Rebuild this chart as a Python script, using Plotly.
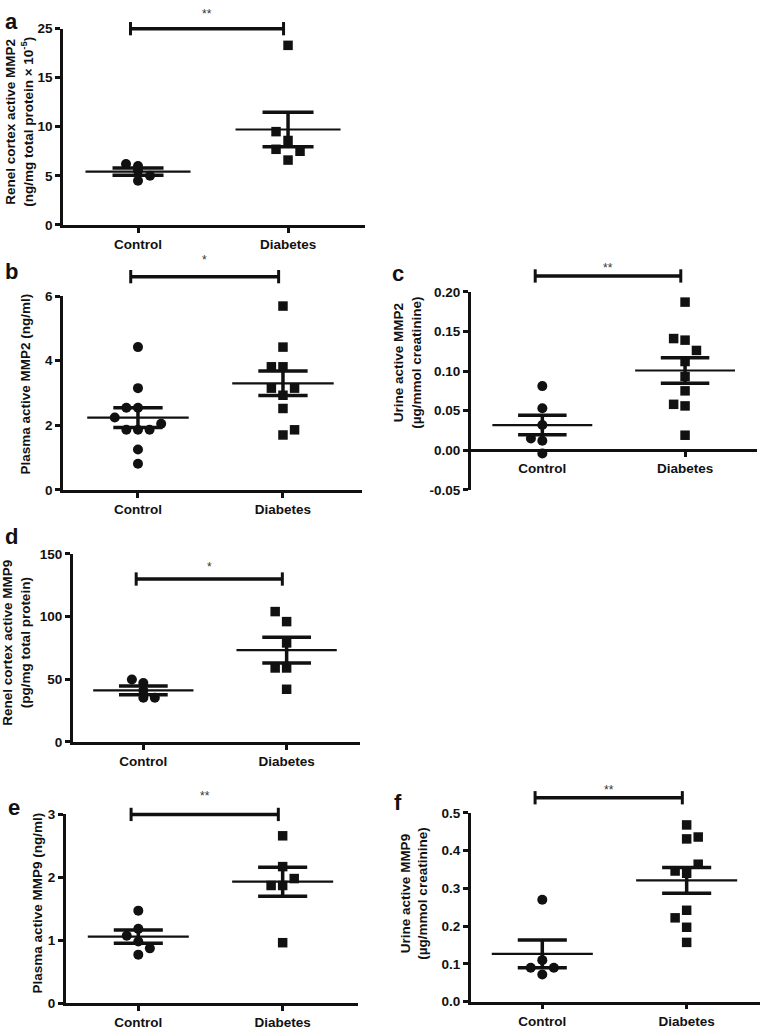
import plotly.graph_objects as go

W, H = 761, 1035

# ---------------- DATA ----------------
groups = ["Control", "Diabetes"]

# a: renal cortex active MMP2
a_control = [6.2, 6.0, 5.5, 5.0, 4.5]
a_diabetes = [18.3, 9.5, 8.6, 7.7, 7.5, 6.6]
a_mean = [5.43, 9.72]
a_sem = [0.37, 1.75]
a_ticks = [0, 5, 10, 15, 20]
a_ticklabels = ["0", "5", "10", "15", "25"]
a_sig, a_sig_y = "**", 20

# b: plasma active MMP2
b_control = [4.42, 3.15, 2.54, 2.54, 2.24, 2.05, 1.86, 1.86, 1.86, 1.25, 0.81]
b_diabetes = [5.69, 4.42, 3.81, 3.81, 3.15, 3.15, 2.93, 2.52, 1.86, 1.70]
b_mean = [2.24, 3.30]
b_sem = [0.305, 0.38]
b_ticks = [0, 2, 4, 6]
b_ticklabels = ["0", "2", "4", "6"]
b_sig, b_sig_y = "*", 6.6

# c: urine active MMP2
c_control = [0.081, 0.053, 0.032, 0.015, 0.012, -0.004]
c_diabetes = [0.187, 0.141, 0.139, 0.126, 0.112, 0.093, 0.075, 0.058, 0.056, 0.019]
c_mean = [0.0318, 0.1007]
c_sem = [0.0123, 0.016]
c_ticks = [-0.05, 0.0, 0.05, 0.10, 0.15, 0.20]
c_ticklabels = ["-0.05", "0.00", "0.05", "0.10", "0.15", "0.20"]
c_sig, c_sig_y = "**", 0.22

# d: renal cortex active MMP9
d_control = [49.8, 47.0, 41.0, 35.2, 35.2]
d_diabetes = [104, 96, 79, 59, 59, 42]
d_mean = [41.15, 73.3]
d_sem = [3.45, 10.25]
d_ticks = [0, 50, 100, 150]
d_ticklabels = ["0", "50", "100", "150"]
d_sig, d_sig_y = "*", 130

# e: plasma active MMP9
e_control = [1.47, 1.18, 1.07, 0.98, 0.87, 0.77]
e_diabetes = [2.66, 2.17, 1.98, 1.87, 1.87, 0.96]
e_mean = [1.056, 1.93]
e_sem = [0.104, 0.23]
e_ticks = [0, 1, 2, 3]
e_ticklabels = ["0", "1", "2", "3"]
e_sig, e_sig_y = "**", 3.0

# f: urine active MMP9
f_control = [0.27, 0.11, 0.09, 0.09, 0.072]
f_diabetes = [0.468, 0.431, 0.436, 0.364, 0.346, 0.340, 0.242, 0.222, 0.197, 0.157]
f_mean = [0.1265, 0.321]
f_sem = [0.0365, 0.034]
f_ticks = [0.0, 0.1, 0.2, 0.3, 0.4, 0.5]
f_ticklabels = ["0.0", "0.1", "0.2", "0.3", "0.4", "0.5"]
f_sig, f_sig_y = "**", 0.54

titles = {
    "a": "Renel cortex active MMP2<br>(ng/mg total protein × 10<sup>-5</sup>)",
    "b": "Plasma active MMP2 (ng/ml)",
    "c": "Urine active MMP2<br>(µg/mmol creatinine)",
    "d": "Renel cortex active MMP9<br>(pg/mg total protein)",
    "e": "Plasma active MMP9 (ng/ml)",
    "f": "Urine active MMP9<br>(µg/mmol creatinine)",
}

# ---------------- LAYOUT / STYLE ----------------
FONT = "Liberation Sans, Arial, Helvetica, sans-serif"
INK = "#111111"
STEP = 0.08        # horizontal jitter step (x units)
MEAN_HW = 0.35
SEM_HW = 0.17
SIG_X = [0.95, 1.97]

panels = [
    dict(k="a", c=a_control, d=a_diabetes, m=a_mean, s=a_sem, tv=a_ticks, tt=a_ticklabels,
         sig=a_sig, sy=a_sig_y, box=(63, 365, 22, 221), yr=[0, 20], xr=[0.5, 2.513],
         jc=[-1, 0, 0, 1, 0], jd=[0, -1, 0, -1, 1, 0], zero=None,
         letter=(12, 15), title=(19.5, 117), head=21, star=15),
    dict(k="b", c=b_control, d=b_diabetes, m=b_mean, s=b_sem, tv=b_ticks, tt=b_ticklabels,
         sig=b_sig, sy=b_sig_y, box=(63, 362, 293.3, 490), yr=[0, 6], xr=[0.483, 2.545],
         jc=[0, 0, -1, 0, -2, 2, -1, 0, 1, 0, 0], jd=[0, 0, -1, 0, -1, 1, 0, 0, 1, 0], zero=None,
         letter=(12, 268), title=(25, 383), head=50, star=17),
    dict(k="c", c=c_control, d=c_diabetes, m=c_mean, s=c_sem, tv=c_ticks, tt=c_ticklabels,
         sig=c_sig, sy=c_sig_y, box=(470.7, 756.7, 289, 490), yr=[-0.05, 0.20], xr=[0.498, 2.502],
         jc=[0, 0, 0, -1, 0, 0], jd=[0, -1, 0, 1, 0, 0, 0, -1, 0, 0], zero=450,
         letter=(398, 270), title=(408, 361), head=40, star=8),
    dict(k="d", c=d_control, d=d_diabetes, m=d_mean, s=d_sem, tv=d_ticks, tt=d_ticklabels,
         sig=d_sig, sy=d_sig_y, box=(72.7, 360, 555, 745.7), yr=[0, 150], xr=[0.507, 2.512],
         jc=[-1, 0, 0, 0, 1], jd=[-1, 0, 0, -1, 0, 0], zero=None,
         letter=(12, 537), title=(17, 645), head=20, star=12),
    dict(k="e", c=e_control, d=e_diabetes, m=e_mean, s=e_sem, tv=e_ticks, tt=e_ticklabels,
         sig=e_sig, sy=e_sig_y, box=(65.7, 358.3, 819.3, 1010.7), yr=[0, 3], xr=[0.497, 2.524],
         jc=[0, 0, -1, 0, 1, 0], jd=[0, 0, 1, -1, 0, 0], zero=None,
         letter=(14, 812), title=(37.7, 909), head=35, star=18),
    dict(k="f", c=f_control, d=f_diabetes, m=f_mean, s=f_sem, tv=f_ticks, tt=f_ticklabels,
         sig=f_sig, sy=f_sig_y, box=(470.7, 760, 817.7, 1009.3), yr=[0, 0.5], xr=[0.504, 2.508],
         jc=[0, 0, -1, 1, 0], jd=[0, 0, 1, 1, -1, 0, 0, -1, 0, 0], zero=None,
         letter=(398, 807), title=(414.7, 900), head=35, star=8),
]

fig = go.Figure()
annotations = []
layout_axes = {}
NP = len(panels)

for i, p in enumerate(panels):
    n = i + 1
    xs = "x" if n == 1 else f"x{n}"
    ys = "y" if n == 1 else f"y{n}"
    ys_top = f"y{n + NP}"            # invisible axis with headroom for the significance bar
    xname = "xaxis" if n == 1 else f"xaxis{n}"
    yname = "yaxis" if n == 1 else f"yaxis{n}"
    ytop_name = f"yaxis{n + NP}"
    l, r, t, b = p["box"]
    px_per_y = (b - t) / (p["yr"][1] - p["yr"][0])

    # data points
    fig.add_trace(go.Scatter(
        x=[1 + o * STEP for o in p["jc"]], y=p["c"], mode="markers",
        marker=dict(symbol="circle", size=10, color=INK), xaxis=xs, yaxis=ys,
        cliponaxis=False, hoverinfo="y"))
    fig.add_trace(go.Scatter(
        x=[2 + o * STEP for o in p["jd"]], y=p["d"], mode="markers",
        marker=dict(symbol="square", size=9.5, color=INK), xaxis=xs, yaxis=ys,
        cliponaxis=False, hoverinfo="y"))

    # mean lines
    mx, my = [], []
    for g, m in zip([1, 2], p["m"]):
        mx += [g - MEAN_HW, g + MEAN_HW, None]
        my += [m, m, None]
    fig.add_trace(go.Scatter(x=mx, y=my, mode="lines", line=dict(color=INK, width=2.2),
                             xaxis=xs, yaxis=ys, hoverinfo="skip"))
    # SEM
    sx, sy = [], []
    for g, m, s in zip([1, 2], p["m"], p["s"]):
        sx += [g - SEM_HW, g + SEM_HW, None, g - SEM_HW, g + SEM_HW, None, g, g, None]
        sy += [m + s, m + s, None, m - s, m - s, None, m - s, m + s, None]
    fig.add_trace(go.Scatter(x=sx, y=sy, mode="lines", line=dict(color=INK, width=3.5),
                             xaxis=xs, yaxis=ys, hoverinfo="skip"))

    # significance bar on the head-room axis (same scale, taller domain)
    fig.add_trace(go.Scatter(
        x=SIG_X, y=[p["sy"], p["sy"]], mode="lines+markers",
        line=dict(color=INK, width=3.5),
        marker=dict(symbol="line-ns", size=9.5, line=dict(width=3, color=INK)),
        xaxis=xs, yaxis=ys_top, cliponaxis=False, hoverinfo="skip"))
    annotations.append(dict(
        x=sum(SIG_X) / 2, y=p["sy"], xref=xs, yref=ys_top, text=p["sig"], showarrow=False,
        yanchor="middle", yshift=p["star"], font=dict(family=FONT, size=12, color="#333333")))

    axis_common = dict(showline=True, linewidth=2.5, linecolor=INK, ticks="outside",
                       ticklen=5, tickwidth=2.5, tickcolor=INK, showgrid=False, zeroline=False,
                       tickfont=dict(family=FONT, size=13.5, color=INK, weight="bold"),
                       fixedrange=True)
    xa = dict(domain=[l / W, r / W], range=p["xr"], tickmode="array", tickvals=[1, 2],
              ticktext=groups, **axis_common)
    if p["zero"] is not None:
        xa.update(anchor="free", position=1 - p["zero"] / H)
    else:
        xa.update(anchor=ys)
    ya = dict(domain=[1 - b / H, 1 - t / H], range=p["yr"], tickmode="array",
              tickvals=p["tv"], ticktext=p["tt"], anchor=xs, **axis_common)
    head = p["head"]
    ytop = dict(domain=[1 - b / H, 1 - (t - head) / H],
                range=[p["yr"][0], p["yr"][1] + head / px_per_y],
                visible=False, anchor=xs, fixedrange=True, showgrid=False, zeroline=False)
    layout_axes[xname] = xa
    layout_axes[yname] = ya
    layout_axes[ytop_name] = ytop

    # panel letter
    lx, ly = p["letter"]
    annotations.append(dict(x=lx / W, y=1 - ly / H, xref="paper", yref="paper", text=p["k"],
                            showarrow=False, xanchor="center", yanchor="middle",
                            font=dict(family=FONT, size=22, color=INK, weight="bold")))
    # axis title
    tx, ty = p["title"]
    annotations.append(dict(x=tx / W, y=1 - ty / H, xref="paper", yref="paper",
                            text=titles[p["k"]], showarrow=False, textangle=-90,
                            xanchor="center", yanchor="middle",
                            font=dict(family=FONT, size=13.5, color=INK, weight="bold")))

fig.update_layout(
    width=W, height=H, margin=dict(l=0, r=0, t=0, b=0),
    paper_bgcolor="white", plot_bgcolor="rgba(0,0,0,0)", showlegend=False,
    annotations=annotations, **layout_axes)

fig.write_html("out.html", config={"displayModeBar": False},
               post_script="document.body.style.margin='0';document.body.style.overflow='hidden';")
